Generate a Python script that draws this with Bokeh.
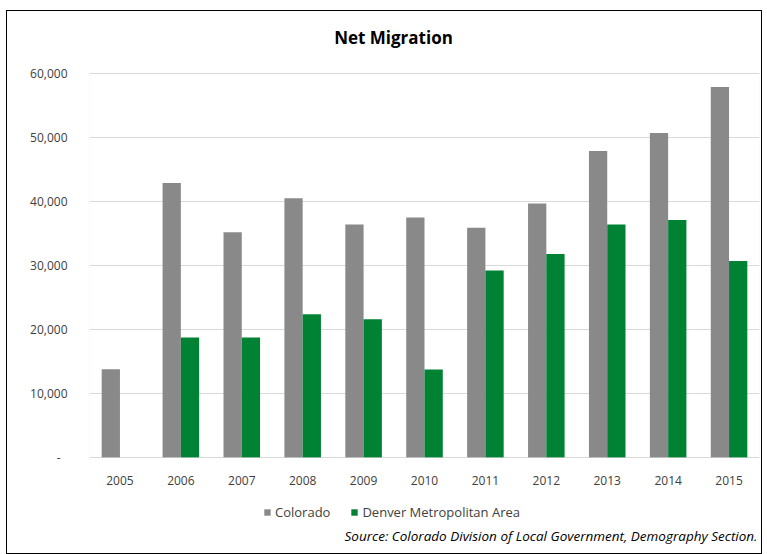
import numpy as np
from bokeh.plotting import figure
from bokeh.models import (ColumnDataSource, Range1d, FactorRange, Legend, LegendItem, Label,
                          NumeralTickFormatter, BoxAnnotation)
from bokeh.transform import dodge
from bokeh.embed import file_html
from bokeh.resources import INLINE

title_text = "Net Migration"
source_text = "Source: Colorado Division of Local Government, Demography Section."
years = ["2005", "2006", "2007", "2008", "2009", "2010", "2011", "2012", "2013", "2014", "2015"]
colorado = [13800, 42900, 35200, 40500, 36400, 37500, 35900, 39700, 47900, 50700, 57900]
denver = [np.nan, 18750, 18750, 22400, 21600, 13750, 29200, 31800, 36400, 37100, 30700]
y_ticks = [0, 10000, 20000, 30000, 40000, 50000, 60000]
Y_MAX = 60000

FONT = "Open Sans"
GRAY = "#898989"
GREEN = "#008234"

# layout (pixels)
FIG_H = 544
TOP_B = 2         # border above the frame
EXTRA_TOP = 60    # space inside the frame above the value area (title)
PLOT_H = 384      # height of the value area
EXTRA_H = 90      # space inside the frame below the zero line (axis labels, legend, source)
BOT_B = FIG_H - TOP_B - EXTRA_TOP - PLOT_H - EXTRA_H
y_start = -Y_MAX * EXTRA_H / PLOT_H
y_end = Y_MAX + Y_MAX * EXTRA_TOP / PLOT_H

src = ColumnDataSource(dict(year=years, colorado=colorado, denver=denver))

p = figure(width=756, height=FIG_H, output_backend="svg", toolbar_location=None,
           x_range=FactorRange(factors=years, range_padding=0),
           y_range=Range1d(y_start, y_end),
           min_border_left=82, min_border_right=4, min_border_top=TOP_B,
           min_border_bottom=BOT_B)

p.margin = (10, 0, 0, 6)
p.styles = {"border": "1px solid #000000"}

r1 = p.vbar(x=dodge("year", -0.15, range=p.x_range), top="colorado", width=0.3,
            source=src, fill_color=GRAY, line_color=None)
r2 = p.vbar(x=dodge("year", 0.15, range=p.x_range), top="denver", width=0.3,
            source=src, fill_color=GREEN, line_color=None)

p.xgrid.grid_line_color = None
p.ygrid.grid_line_color = "#d9d9d9"
p.outline_line_color = None
p.add_layout(BoxAnnotation(bottom=0, top=Y_MAX, fill_alpha=0, line_color="#d9d9d9", line_width=1))

p.yaxis.ticker = y_ticks
p.yaxis.formatter = NumeralTickFormatter(format="0,0")
p.yaxis.major_label_overrides = {0: "-\u2007"}
p.yaxis.axis_line_color = None
p.yaxis.major_tick_line_color = None
p.yaxis.minor_tick_line_color = None
p.yaxis.major_label_standoff = 16
p.yaxis.major_label_text_font = FONT
p.yaxis.major_label_text_font_size = "12px"
p.yaxis.major_label_text_color = "#404040"

p.xaxis.fixed_location = 0
p.xaxis.axis_line_color = None
p.xaxis.major_tick_line_color = None
p.xaxis.minor_tick_line_color = None
p.xaxis.major_label_standoff = 12
p.xaxis.major_label_text_font = FONT
p.xaxis.major_label_text_font_size = "12px"
p.xaxis.major_label_text_color = "#404040"

legend = Legend(items=[LegendItem(label="Colorado", renderers=[r1]),
                       LegendItem(label="Denver Metropolitan Area", renderers=[r2])],
                orientation="horizontal", location=(174, 26),
                glyph_width=8, glyph_height=8, label_standoff=4, spacing=20,
                label_text_font=FONT, label_text_font_size="13px", label_text_color="#404040",
                border_line_color=None, background_fill_alpha=0, padding=4, margin=0)
p.add_layout(legend, "center")

# frame bottom sits at page y = 10 + FIG_H - BOT_B; title centre at page y = 36
title_label = Label(x=304, y=(10 + FIG_H - BOT_B) - 36, x_units="screen", y_units="screen",
                    text=title_text, text_align="center", text_baseline="middle",
                    text_font=FONT, text_font_size="17px", text_font_style="bold",
                    text_color="#000000")
p.add_layout(title_label)

src_label = Label(x=668, y=12, x_units="screen", y_units="screen",
                  text=source_text,
                  text_align="right", text_baseline="middle", text_font=FONT,
                  text_font_size="13.5px", text_font_style="italic", text_color="#000000")
p.add_layout(src_label)

open("out.html", "w").write(file_html(p, INLINE))
